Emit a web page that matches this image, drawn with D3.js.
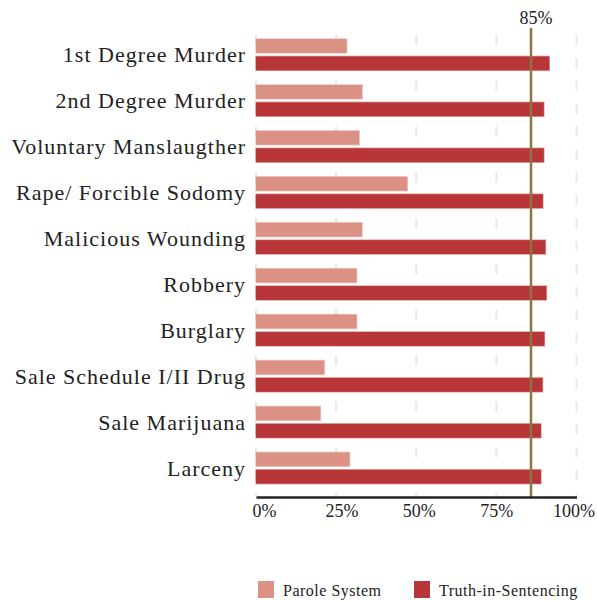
<!DOCTYPE html>
<html>
<head>
<meta charset="utf-8">
<script src="https://cdn.jsdelivr.net/npm/d3@7"></script>
<style>
  html, body { margin: 0; padding: 0; background: #fff; }
  svg { display: block; }
  text { font-family: "Liberation Serif", "Times New Roman", serif; fill: #222; }
</style>
</head>
<body>
<svg id="chart" width="597" height="601"></svg>
<script>
const categories = [
  "1st Degree Murder",
  "2nd Degree Murder",
  "Voluntary Manslaugther",
  "Rape/ Forcible Sodomy",
  "Malicious Wounding",
  "Robbery",
  "Burglary",
  "Sale Schedule I/II Drug",
  "Sale Marijuana",
  "Larceny"
];
const seriesNames = ["Parole System", "Truth-in-Sentencing"];
const paroleValues = [28.3, 33.1, 32.2, 47.2, 33.1, 31.4, 31.4, 21.3, 20.1, 29.2];
const truthValues = [91.5, 89.8, 89.8, 89.5, 90.3, 90.6, 90.0, 89.4, 88.9, 88.9];
const tickValues = [0, 25, 50, 75, 100];
const tickLabels = ["0%", "25%", "50%", "75%", "100%"];
const refValue = 85.8;
const refLabel = "85%";
const colors = ["#db9285", "#b83538"];

const svg = d3.select("#chart");
const axisY = 497;

const x = d3.scaleLinear().domain([0, 100]).range([256, 576.5]);
const y = d3.scaleBand().domain(categories).range([31.7, 491]).paddingInner(0).paddingOuter(0);
const ySub = d3.scaleBand().domain(seriesNames).range([0, y.bandwidth()]).paddingInner(0.2).paddingOuter(0.42);

// gridlines
svg.append("g").selectAll("line").data(tickValues).join("line")
  .attr("x1", d => x(d)).attr("x2", d => x(d))
  .attr("y1", 35).attr("y2", axisY)
  .attr("stroke", "#e8e8e8").attr("stroke-width", 2)
  .attr("stroke-dasharray", "10,12.9");

// bars
const rows = categories.map((c, i) => ({ cat: c, vals: [paroleValues[i], truthValues[i]] }));
const g = svg.append("g");
rows.forEach(r => {
  seriesNames.forEach((s, j) => {
    g.append("rect")
      .attr("x", x(0))
      .attr("y", y(r.cat) + ySub(s))
      .attr("width", x(r.vals[j]) - x(0))
      .attr("height", ySub.bandwidth())
      .attr("fill", colors[j])
      .attr("stroke", colors[j])
      .attr("stroke-opacity", 0.45)
      .attr("stroke-width", 1.5);
  });
});

// category labels
svg.append("g").selectAll("text").data(categories).join("text")
  .attr("x", 246)
  .attr("y", d => y(d) + y.bandwidth() / 2)
  .attr("dy", "0.35em")
  .attr("text-anchor", "end")
  .style("font-size", "22px")
  .style("letter-spacing", "1.0px")
  .text(d => d);

// reference line
svg.append("line")
  .attr("x1", x(refValue)).attr("x2", x(refValue))
  .attr("y1", 28).attr("y2", axisY)
  .attr("stroke", "#8b7545").attr("stroke-width", 2.5);
svg.append("text")
  .attr("x", x(refValue) + 5).attr("y", 24)
  .attr("text-anchor", "middle")
  .style("font-size", "18px")
  .text(refLabel);

// x axis
const axis = d3.axisBottom(x).tickValues(tickValues).tickSize(0).tickFormat((d, i) => tickLabels[i]);
const ax = svg.append("g").attr("transform", `translate(0,${axisY})`).call(axis);
ax.select(".domain").attr("stroke", "#222").attr("stroke-width", 2.5);
ax.selectAll(".tick text")
  .attr("y", 0).attr("dy", 0)
  .attr("transform", d => `translate(${8 - 0.11 * d},20)`)
  .style("font-family", "'Liberation Serif', serif")
  .style("font-size", "18px")
  .attr("fill", "#222");

// legend
const legend = svg.append("g");
const legendX = [258, 414];
seriesNames.forEach((s, j) => {
  legend.append("rect")
    .attr("x", legendX[j]).attr("y", 581)
    .attr("width", 16).attr("height", 17)
    .attr("fill", colors[j]);
  legend.append("text")
    .attr("x", legendX[j] + 25).attr("y", 596)
    .style("font-size", "16px")
    .style("letter-spacing", "0.5px")
    .text(s);
});
</script>
</body>
</html>
